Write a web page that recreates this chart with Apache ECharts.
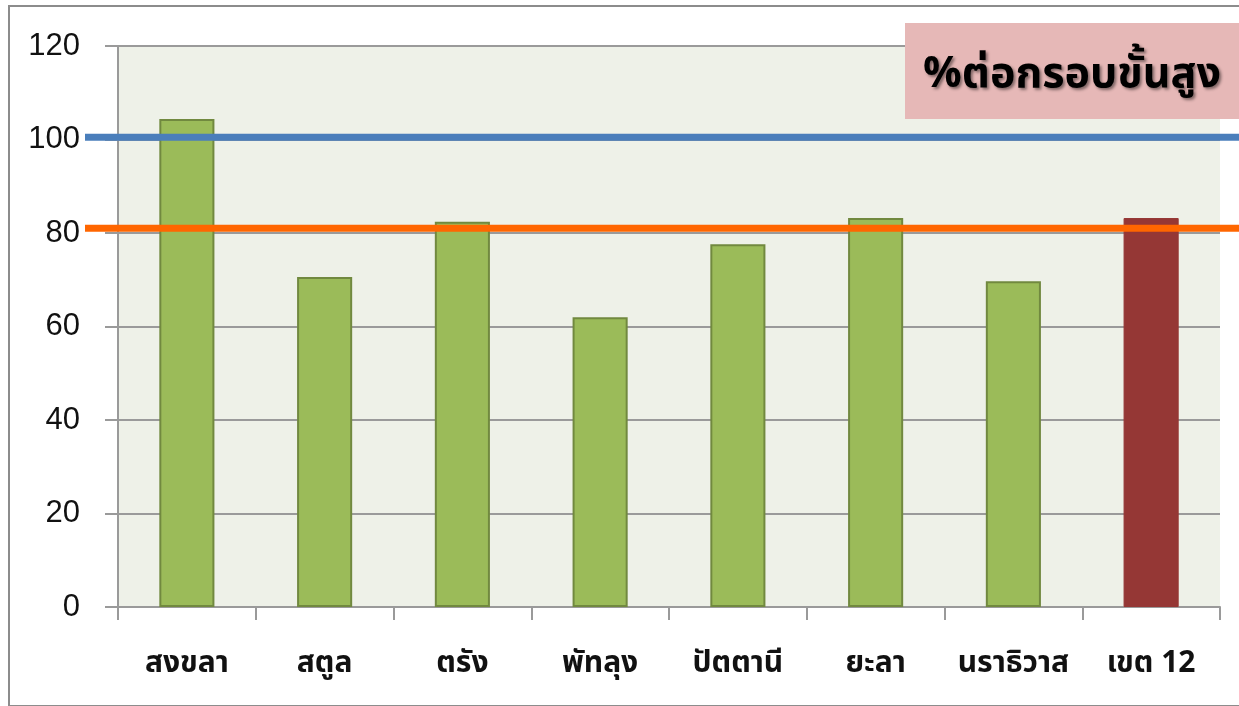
<!DOCTYPE html>
<html>
<head>
<meta charset="utf-8">
<script src="https://cdn.jsdelivr.net/npm/echarts@6/dist/echarts.min.js"></script>
<style>
  html, body { margin: 0; padding: 0; background: #ffffff; }
  #frame {
    position: absolute;
    left: 8px;
    top: 5px;
    width: 1250px;
    height: 698px;
    border: 2px solid #8c8c8c;
  }
  #chart { position: absolute; left: 0; top: 0; width: 1239px; height: 706px; }
</style>
</head>
<body>
<div id="frame"></div>
<div id="chart"></div>
<script>
const categories = ['สงขลา', 'สตูล', 'ตรัง', 'พัทลุง', 'ปัตตานี', 'ยะลา', 'นราธิวาส', 'เขต 12']
const percentValues = [104.4, 70.6, 82.4, 62.0, 77.6, 83.2, 69.7, 83.2]
const upperTarget = 100.5
const lowerTarget = 81.0
const yTicks = [0, 20, 40, 60, 80, 100, 120]

const GREEN = '#9bbb59'
const GREEN_EDGE = '#71893f'
const RED = '#953735'
const GRID_COLOR = '#9a9a9a'
const THAI_FONT = "'Noto Sans Thai', 'Noto Sans', 'DejaVu Sans', sans-serif"

const chart = echarts.init(document.getElementById('chart'))

chart.setOption({
  animation: false,
  grid: [
    {
      left: 118,
      right: 19,
      top: 46,
      bottom: 99,
      show: true,
      backgroundColor: '#eef1e8',
      borderWidth: 0
    },
    {
      left: 85,
      right: 0,
      top: 46,
      bottom: 99
    }
  ],
  xAxis: [
    {
      type: 'category',
      gridIndex: 0,
      data: categories,
      axisLine: { lineStyle: { color: GRID_COLOR, width: 2 } },
      axisTick: { show: true, interval: 0, length: 13, lineStyle: { color: GRID_COLOR, width: 2 } },
      axisLabel: {
        interval: 0,
        hideOverlap: false,
        color: '#111111',
        fontSize: 30,
        fontWeight: 'bold',
        fontFamily: THAI_FONT,
        margin: 44
      }
    },
    {
      type: 'value',
      gridIndex: 1,
      min: 0,
      max: 1,
      show: false
    }
  ],
  yAxis: [
    {
      type: 'value',
      gridIndex: 0,
      min: yTicks[0],
      max: yTicks[yTicks.length - 1],
      interval: 20,
      axisLine: { show: true, lineStyle: { color: GRID_COLOR, width: 2 } },
      axisTick: { show: true, length: 13, lineStyle: { color: GRID_COLOR, width: 2 } },
      splitLine: { lineStyle: { color: GRID_COLOR, width: 2 } },
      axisLabel: {
        color: '#111111',
        fontSize: 31,
        fontFamily: "'Liberation Sans', Arial, sans-serif",
        margin: 38,
        padding: [4, 0, 0, 0]
      }
    },
    {
      type: 'value',
      gridIndex: 1,
      min: yTicks[0],
      max: yTicks[yTicks.length - 1],
      show: false
    }
  ],
  series: [
    {
      type: 'bar',
      xAxisIndex: 0,
      yAxisIndex: 0,
      barWidth: '40%',
      data: percentValues.map((v, i) => ({
        value: v,
        itemStyle: i === percentValues.length - 1
          ? { color: RED, borderColor: RED, borderWidth: 1 }
          : { color: GREEN, borderColor: GREEN_EDGE, borderWidth: 2 }
      })),
      z: 2
    },
    {
      type: 'line',
      xAxisIndex: 1,
      yAxisIndex: 1,
      data: [[0, upperTarget], [1, upperTarget]],
      showSymbol: false,
      lineStyle: { color: '#4a7ebb', width: 7 },
      z: 5
    },
    {
      type: 'line',
      xAxisIndex: 1,
      yAxisIndex: 1,
      data: [[0, lowerTarget], [1, lowerTarget]],
      showSymbol: false,
      lineStyle: { color: '#ff6600', width: 7 },
      z: 5
    }
  ],
  graphic: [
    {
      type: 'rect',
      left: 905,
      top: 23,
      shape: { width: 340, height: 96 },
      style: { fill: '#e6b8b7' },
      z: 10
    },
    {
      type: 'text',
      x: 1072,
      y: 78,
      style: {
        text: '%ต่อกรอบขั้นสูง',
        fill: '#000000',
        font: "bold 43px 'Noto Sans Thai', 'Noto Sans', 'DejaVu Sans', sans-serif",
        textAlign: 'center',
        textVerticalAlign: 'middle',
        textShadowColor: 'rgba(0,0,0,0.45)',
        textShadowBlur: 3,
        textShadowOffsetX: 2,
        textShadowOffsetY: 2
      },
      z: 11
    }
  ]
})
</script>
</body>
</html>
